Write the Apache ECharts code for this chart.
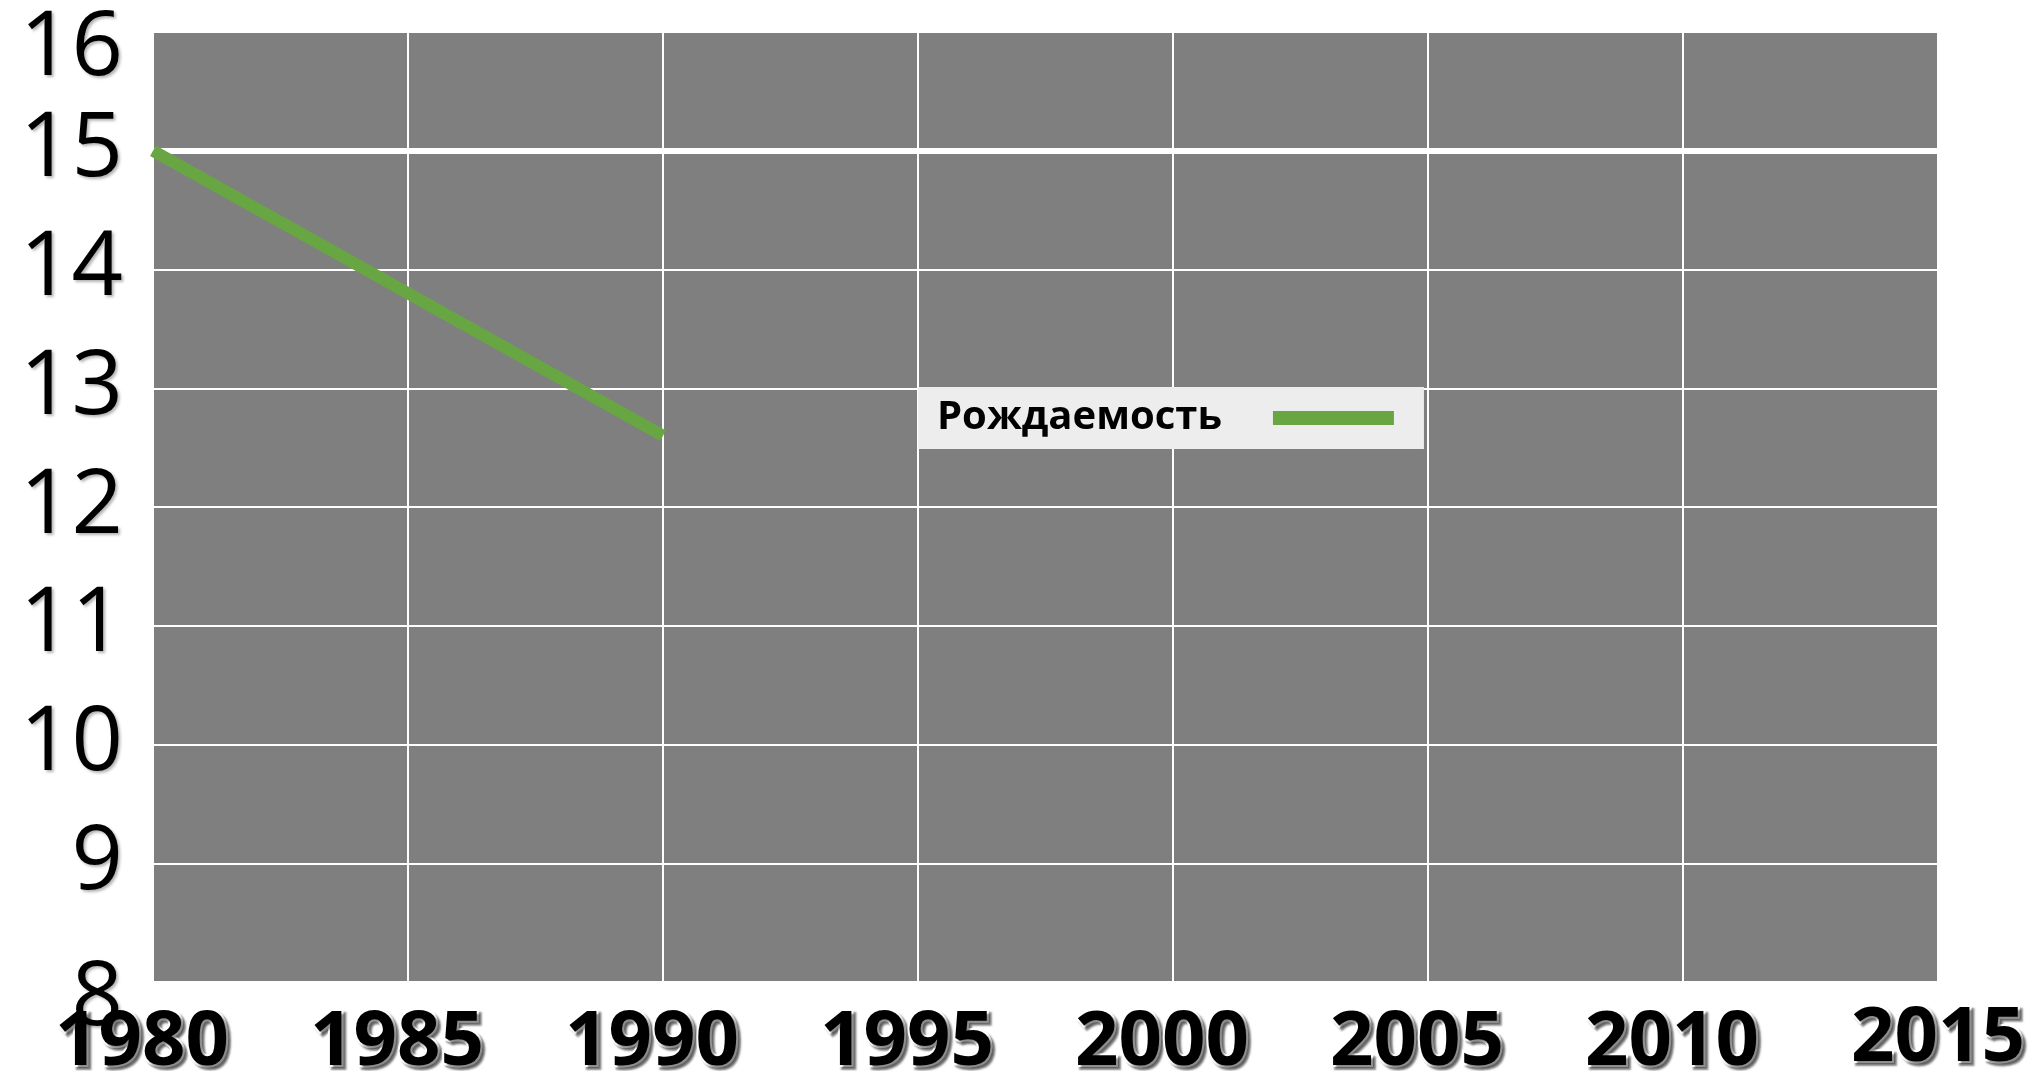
<!DOCTYPE html>
<html>
<head>
<meta charset="utf-8">
<script src="https://cdn.jsdelivr.net/npm/echarts@6/dist/echarts.min.js"></script>
<style>
    html, body { margin: 0; padding: 0; background: #fff; }
    #main { width: 2036px; height: 1071px; }
</style>
</head>
<body>
<div id="main"></div>
<script>
// данные графика
var seriesName = 'Рождаемость';
var years = [1980, 1985, 1990];
var birthRate = [15, 13.8, 12.6];
var xTicks = [1980, 2015, 5];   // min, max, шаг
var yTicks = [8, 16, 1];
var highlightLevel = 15;

var lineData = years.map(function (y, i) {
    return [y, birthRate[i]];
});

var xLabelStyle = {
    fontFamily: 'Open Sans',
    fontWeight: 'bold',
    fontSize: 76,
    color: '#000',
    textBorderColor: '#fff',
    textBorderWidth: 4,
    textShadowColor: 'rgba(0,0,0,0.45)',
    textShadowBlur: 2,
    textShadowOffsetX: 3,
    textShadowOffsetY: 3
};
var yLabelStyle = {
    fontFamily: 'Open Sans',
    fontSize: 90,
    color: '#000',
    textShadowColor: 'rgba(0,0,0,0.3)',
    textShadowBlur: 3,
    textShadowOffsetX: 2,
    textShadowOffsetY: 2
};

var myChart = echarts.init(document.getElementById('main'));

var option = {
    animation: false,
    grid: {
        left: 153,
        top: 32,
        right: 98,
        bottom: 89,
        outerBoundsMode: 'none',
        show: true,
        backgroundColor: '#7f7f7f',
        borderWidth: 0
    },
    legend: {
        z: 20,
        data: [seriesName],
        left: 918,
        top: 387,
        backgroundColor: '#ededed',
        padding: [11, 30, 11, 19],
        align: 'right',
        icon: 'rect',
        itemWidth: 121,
        itemHeight: 14,
        textStyle: {
            fontFamily: 'Open Sans',
            fontWeight: 'bold',
            fontSize: 40,
            color: '#000',
            padding: [0, 46, 0, 0]
        }
    },
    xAxis: {
        type: 'value',
        z: 0,
        min: xTicks[0],
        max: xTicks[1],
        interval: xTicks[2],
        axisLine: { show: false },
        axisTick: { show: false },
        splitLine: { lineStyle: { color: '#fff', width: 2 } },
        axisLabel: {
            margin: 16,
            formatter: function (v) {
                return v === xTicks[1] ? '{h|' + v + '}' : '{n|' + v + '}';
            },
            rich: {
                n: Object.assign({ padding: [7, 22, 0, 0] }, xLabelStyle),
                h: Object.assign({ padding: [3, 0, 0, 0] }, xLabelStyle)
            }
        }
    },
    yAxis: {
        type: 'value',
        z: 5,
        min: yTicks[0],
        max: yTicks[1],
        interval: yTicks[2],
        axisLine: { show: false },
        axisTick: { show: false },
        splitLine: { lineStyle: { color: '#fff', width: 2 } },
        axisLabel: {
            margin: 30,
            formatter: function (v) {
                if (v === yTicks[0] || v === yTicks[1]) {
                    return '{e|' + v + '}';
                }
                return '{n|' + v + '}';
            },
            rich: {
                n: Object.assign({}, yLabelStyle),
                e: Object.assign({ padding: [34, 0, 0, 0] }, yLabelStyle)
            }
        }
    },
    series: [
        {
            name: 'grid15',
            type: 'line',
            data: [],
            z: 6,
            markLine: {
                silent: true,
                symbol: 'none',
                label: { show: false },
                lineStyle: { color: '#fff', width: 6, type: 'solid' },
                data: [{ yAxis: highlightLevel }]
            }
        },
        {
            name: seriesName,
            type: 'line',
            z: 10,
            data: lineData,
            showSymbol: false,
            itemStyle: { color: '#68a643' },
            lineStyle: { color: '#68a643', width: 12, cap: 'butt' }
        }
    ]
};

myChart.setOption(option);
window.onresize = myChart.resize;
</script>
</body>
</html>
